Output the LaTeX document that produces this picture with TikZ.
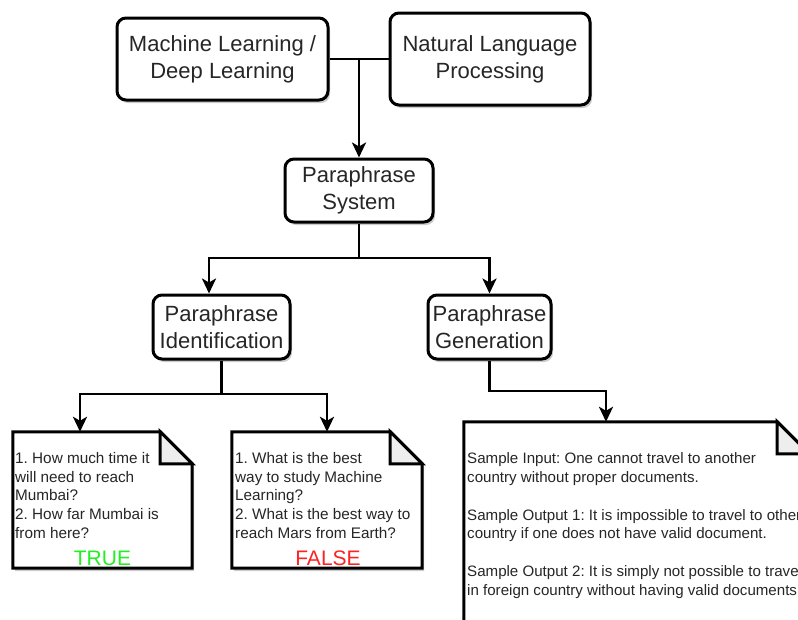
\documentclass[tikz,border=0pt]{standalone}
\usepackage{fontspec}
\setmainfont{Liberation Sans}
\frenchspacing
\usetikzlibrary{arrows.meta,shadows}
\definecolor{txt}{HTML}{262626}
\definecolor{truegreen}{HTML}{22F022}
\definecolor{falsered}{HTML}{FF2222}
\definecolor{foldgray}{HTML}{EEEEEE}
\tikzset{
  box/.style={draw=black, line width=3pt, rounded corners=9pt, fill=white,
    align=center, text=txt, inner sep=0pt, font=\fontsize{22}{27}\selectfont,
    drop shadow={shadow xshift=2pt, shadow yshift=-3pt, opacity=0.2, fill=black}},
  notearea/.style={draw=none, inner sep=0pt},
  noteline/.style={draw=black, line width=3pt, line join=miter, fill=white,
    preaction={fill=black, opacity=0.2, transform canvas={xshift=2pt, yshift=-3pt}}},
  fold/.style={draw=black, line width=3pt, line join=miter, fill=foldgray},
  notetext/.style={anchor=north west, align=left, inner sep=0pt, text=txt,
    font=\fontsize{15.3}{18.6}\selectfont},
  verdict/.style={inner sep=0pt, font=\fontsize{21}{25}\selectfont},
  conn/.style={draw=black, line width=2.8pt},
  arr/.style={conn, -{Stealth[length=15pt, width=14pt, inset=4pt]}},
}
\begin{document}
\begin{tikzpicture}[x=1pt, y=-1pt]
\useasboundingbox (0,0) rectangle (798,619);
\clip (0,0) rectangle (798,619);

% main boxes
\node[box, minimum width=211pt, minimum height=82pt] (ml) at (222.5,59) {Machine Learning /\\Deep Learning};
\node[box, minimum width=200pt, minimum height=92pt] (nlp) at (490,59) {Natural Language\\Processing};
\node[box, minimum width=148pt, minimum height=63pt] (ps) at (359,190.5) {Paraphrase\\System};
\node[box, minimum width=137pt, minimum height=64pt] (pi) at (221.5,327) {Paraphrase\\Identification};
\node[box, minimum width=123pt, minimum height=64pt] (pg) at (489.5,327) {Paraphrase\\Generation};

% note areas
\node[notearea, minimum width=179pt, minimum height=136pt] (n1) at (102.5,500) {};
\node[notearea, minimum width=190pt, minimum height=136pt] (n2) at (327,500) {};
\node[notearea, minimum width=345pt, minimum height=298pt] (n3) at (636.5,571) {};

% note outlines
\foreach \n in {n1,n2,n3}{
  \draw[noteline] (\n.north west) -- ([xshift=-32pt]\n.north east)
    -- ([yshift=-32pt]\n.north east) -- (\n.south east) -- (\n.south west) -- cycle;
  \draw[fold] ([xshift=-32pt]\n.north east) -- ([xshift=-32pt,yshift=-32pt]\n.north east)
    -- ([yshift=-32pt]\n.north east) -- cycle;
}

% note texts
\node[notetext] (t1) at (15,452.5) {1. How much time it\\will need to reach\\Mumbai?\\2. How far Mumbai is\\from here?};
\node[verdict, text=truegreen] (v1) at (102.5,558) {TRUE};
\node[notetext] (t2) at (235,452.5) {1. What is the best\\way to study Machine\\Learning?\\2. What is the best way to\\reach Mars from Earth?};
\node[verdict, text=falsered] (v2) at (328,558) {FALSE};
\node[notetext, font=\fontsize{15.1}{18.8}\selectfont] (t3) at (467,452.5)
  {Sample Input: One cannot travel to another\\country without proper documents.\\[18.8pt]
   Sample Output 1: It is impossible to travel to other\\country if one does not have valid document.\\[18.8pt]
   Sample Output 2: It is simply not possible to travel\\in foreign country without having valid documents.};

% connectors
\coordinate (j1) at (359,59);
\draw[conn] (ml.east) -- (nlp.west);
\draw[arr] (j1) -- (ps.north);

\coordinate (j2) at (359,258);
\coordinate (a1) at (209,258);
\draw[conn] (ps.south) -- (j2);
\draw[arr] (j2) -- (a1) -- (a1 |- pi.north);
\draw[arr] (j2) -| (pg.north);

\coordinate (j3) at (221.5,394);
\coordinate (b1) at (80,394);
\coordinate (b2) at (327,394);
\draw[conn] (pi.south) -- (j3);
\draw[arr] (j3) -- (b1) -- (b1 |- n1.north);
\draw[arr] (j3) -- (b2) -- (b2 |- n2.north);

\coordinate (c1) at (489.5,391);
\coordinate (c2) at (606,391);
\draw[arr] (pg.south) -- (c1) -- (c2) -- (c2 |- n3.north);
\end{tikzpicture}
\end{document}
